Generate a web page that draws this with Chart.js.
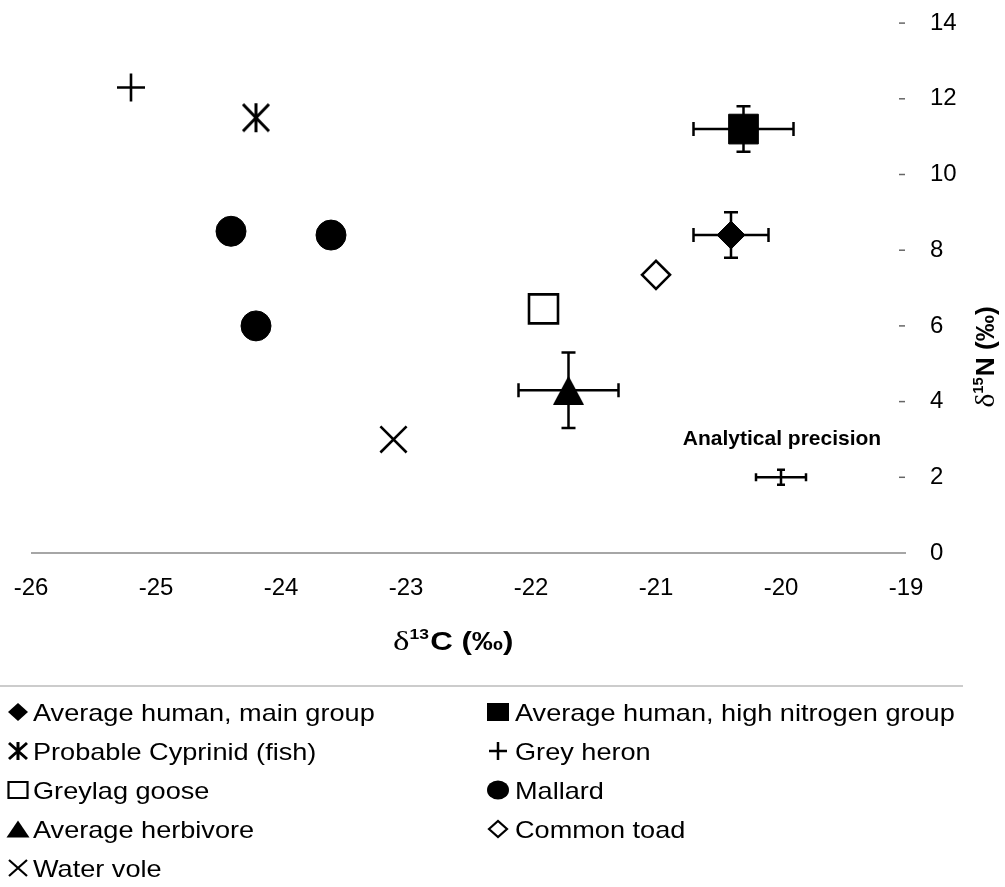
<!DOCTYPE html>
<html><head><meta charset="utf-8">
<script src="https://cdn.jsdelivr.net/npm/chart.js@4.4.1/dist/chart.umd.min.js"></script>
<style>html,body{margin:0;padding:0;background:#fff}canvas{display:block}</style>
</head><body>
<canvas id="c" width="1005" height="887"></canvas>
<script>
// ---- data (δ13C, δ15N in ‰) ----
const seriesLabels = [
  'Average human, main group',
  'Average human, high nitrogen group',
  'Probable Cyprinid (fish)',
  'Grey heron',
  'Greylag goose',
  'Mallard',
  'Average herbivore',
  'Common toad',
  'Water vole'
];
const humanMainC = [-20.4];  const humanMainN = [8.4];
const humanMainErrC = [0.3]; const humanMainErrN = [0.6];
const humanHighC = [-20.3];  const humanHighN = [11.2];
const humanHighErrC = [0.4]; const humanHighErrN = [0.6];
const cyprinidC = [-24.2];   const cyprinidN = [11.5];
const heronC = [-25.2];      const heronN = [12.3];
const gooseC = [-21.9];      const gooseN = [6.45];
const mallardC = [-24.4, -23.6, -24.2]; const mallardN = [8.5, 8.4, 6.0];
const herbivoreC = [-21.7];  const herbivoreN = [4.3];
const herbivoreErrC = [0.4]; const herbivoreErrN = [1.0];
const toadC = [-21.0];       const toadN = [7.35];
const voleC = [-23.1];       const voleN = [3.0];
const precisionLabel = 'Analytical precision';
const precisionC = [-20.0];  const precisionN = [2.0];
const precisionErrC = [0.2]; const precisionErrN = [0.2];
const xTicks = [-26, -25, -24, -23, -22, -21, -20, -19];
const yTicks = [0, 2, 4, 6, 8, 10, 12, 14];

const SANS = "'Liberation Sans', Arial, Helvetica, sans-serif";
const SERIF = "'Liberation Serif', 'Times New Roman', serif";

function pts(xs, ys) { return xs.map((v, i) => ({x: v, y: ys[i]})); }

function asteriskCanvas(w, h, lw) {
  const c = document.createElement('canvas');
  c.width = w; c.height = h;
  const g = c.getContext('2d');
  g.strokeStyle = '#000'; g.lineWidth = lw;
  g.beginPath();
  g.moveTo(w / 2, 1); g.lineTo(w / 2, h - 1);
  g.moveTo(2, 2); g.lineTo(w - 2, h - 2);
  g.moveTo(w - 2, 2); g.lineTo(2, h - 2);
  g.stroke();
  return c;
}
function triangleCanvas(w, h) {
  const c = document.createElement('canvas');
  c.width = w; c.height = h;
  const g = c.getContext('2d');
  g.fillStyle = '#000';
  g.beginPath();
  g.moveTo(w / 2, 0); g.lineTo(w, h); g.lineTo(0, h); g.closePath();
  g.fill();
  return c;
}

const K = '#000';
function ds(label, data, style, radius, fillColor, bw, marker, fill, extra) {
  return Object.assign({
    label, data, pointStyle: style, pointRadius: radius,
    pointBackgroundColor: fillColor, backgroundColor: fillColor,
    pointBorderColor: K, borderColor: K, pointBorderWidth: bw, borderWidth: bw,
    showLine: false, marker, fill
  }, extra || {});
}
const datasets = [
  ds(seriesLabels[0], pts(humanMainC, humanMainN), 'rectRot', 14, K, 1, 'diamond', true, {errC: humanMainErrC, errN: humanMainErrN}),
  ds(seriesLabels[1], pts(humanHighC, humanHighN), 'rect', 21, K, 1, 'square', true, {errC: humanHighErrC, errN: humanHighErrN}),
  ds(seriesLabels[2], pts(cyprinidC, cyprinidN), asteriskCanvas(30, 31, 3), 15, K, 1, 'asterisk', true),
  ds(seriesLabels[3], pts(heronC, heronN), 'cross', 14, K, 2.6, 'plus', true),
  ds(seriesLabels[4], pts(gooseC, gooseN), 'rect', 20.5, '#fff', 2.6, 'square', false),
  ds(seriesLabels[5], pts(mallardC, mallardN), 'circle', 15, K, 1, 'circle', true),
  ds(seriesLabels[6], pts(herbivoreC, herbivoreN), triangleCanvas(31, 29), 15, K, 1, 'triangle', true, {errC: herbivoreErrC, errN: herbivoreErrN}),
  ds(seriesLabels[7], pts(toadC, toadN), 'rectRot', 14, '#fff', 2.6, 'diamond', false),
  ds(seriesLabels[8], pts(voleC, voleN), 'crossRot', 18.5, K, 2.6, 'x', true),
  ds(precisionLabel, pts(precisionC, precisionN), 'circle', 0, K, 0, null, false,
     {errC: precisionErrC, errN: precisionErrN, noLegend: true, capHalf: 4})
];

function drawMarker(ctx, m, cx, cy, fill) {
  ctx.save();
  ctx.strokeStyle = '#000'; ctx.fillStyle = '#000'; ctx.lineWidth = 2.2;
  ctx.beginPath();
  if (m === 'diamond') {
    const hw = fill ? 10 : 9, hh = fill ? 9 : 8;
    ctx.moveTo(cx - hw, cy); ctx.lineTo(cx, cy - hh); ctx.lineTo(cx + hw, cy); ctx.lineTo(cx, cy + hh); ctx.closePath();
    fill ? ctx.fill() : ctx.stroke();
  } else if (m === 'square') {
    if (fill) { ctx.rect(cx - 11, cy - 9, 22, 18); ctx.fill(); }
    else { ctx.rect(cx - 9.5, cy - 8, 19, 16); ctx.stroke(); }
  } else if (m === 'circle') {
    ctx.ellipse(cx, cy, 11, 9.5, 0, 0, Math.PI * 2); ctx.fill();
  } else if (m === 'triangle') {
    ctx.moveTo(cx - 11.5, cy + 8.5); ctx.lineTo(cx, cy - 8.5); ctx.lineTo(cx + 11.5, cy + 8.5); ctx.closePath(); ctx.fill();
  } else if (m === 'plus') {
    ctx.lineWidth = 2.5;
    ctx.moveTo(cx - 9, cy); ctx.lineTo(cx + 9, cy); ctx.moveTo(cx, cy - 9); ctx.lineTo(cx, cy + 9); ctx.stroke();
  } else if (m === 'x') {
    ctx.lineWidth = 2.2;
    ctx.moveTo(cx - 9, cy - 8); ctx.lineTo(cx + 9, cy + 8); ctx.moveTo(cx + 9, cy - 8); ctx.lineTo(cx - 9, cy + 8); ctx.stroke();
  } else if (m === 'asterisk') {
    ctx.lineWidth = 3;
    ctx.moveTo(cx, cy - 9); ctx.lineTo(cx, cy + 9);
    ctx.moveTo(cx - 9, cy - 8); ctx.lineTo(cx + 9, cy + 8);
    ctx.moveTo(cx + 9, cy - 8); ctx.lineTo(cx - 9, cy + 8); ctx.stroke();
  }
  ctx.restore();
}

function drawParts(ctx, parts, x, y) {
  let cx = x;
  parts.forEach(p => { ctx.font = p[1]; ctx.fillText(p[0], cx, y + p[2]); cx += ctx.measureText(p[0]).width + (p[3] || 0); });
}
function partsWidth(ctx, parts) {
  let w = 0; parts.forEach(p => { ctx.font = p[1]; w += ctx.measureText(p[0]).width + (p[3] || 0); }); return w;
}

const decor = {
  id: 'decor',
  beforeDatasetsDraw(chart) {
    const {ctx, scales: {x, y}} = chart;
    ctx.save();
    const y0 = y.getPixelForValue(yTicks[0]);
    ctx.strokeStyle = '#888'; ctx.lineWidth = 1.5;
    ctx.beginPath(); ctx.moveTo(x.left, y0); ctx.lineTo(x.right, y0); ctx.stroke();
    ctx.strokeStyle = '#666'; ctx.lineWidth = 1.5;
    yTicks.forEach(v => {
      if (v === yTicks[0]) return;
      const py = y.getPixelForValue(v);
      ctx.beginPath(); ctx.moveTo(y.left - 7, py); ctx.lineTo(y.left - 1, py); ctx.stroke();
    });
    ctx.strokeStyle = '#000'; ctx.lineWidth = 2.5;
    chart.data.datasets.forEach(d => {
      if (!d.errC) return;
      const cap = d.capHalf || 7;
      d.data.forEach((p, i) => {
        const px = x.getPixelForValue(p.x), py = y.getPixelForValue(p.y);
        const xl = x.getPixelForValue(p.x - d.errC[i]), xr = x.getPixelForValue(p.x + d.errC[i]);
        const yt = y.getPixelForValue(p.y + d.errN[i]), yb = y.getPixelForValue(p.y - d.errN[i]);
        ctx.beginPath();
        ctx.moveTo(xl, py); ctx.lineTo(xr, py);
        ctx.moveTo(xl, py - cap); ctx.lineTo(xl, py + cap);
        ctx.moveTo(xr, py - cap); ctx.lineTo(xr, py + cap);
        ctx.moveTo(px, yt); ctx.lineTo(px, yb);
        ctx.moveTo(px - cap, yt); ctx.lineTo(px + cap, yt);
        ctx.moveTo(px - cap, yb); ctx.lineTo(px + cap, yb);
        ctx.stroke();
      });
    });
    ctx.restore();
  },
  afterDraw(chart) {
    const {ctx, scales: {x, y}} = chart;
    ctx.save();
    ctx.fillStyle = '#000';
    ctx.textBaseline = 'alphabetic';
    // precision label
    const ppx = x.getPixelForValue(precisionC[0]), ppy = y.getPixelForValue(precisionN[0]);
    ctx.font = 'bold 21px ' + SANS;
    ctx.textAlign = 'center';
    ctx.fillText(precisionLabel, ppx + 1, ppy - 32);
    ctx.textAlign = 'left';
    // x title (slightly stretched, like the source)
    const xParts = [['δ', '28px ' + SERIF, 0, 0], ['13', 'bold 14px ' + SANS, -11, 1], ['C (‰)', 'bold 25px ' + SANS, 0, 0]];
    ctx.save();
    ctx.translate(393, 650);
    ctx.scale(1.25, 1);
    drawParts(ctx, xParts, 0, 0);
    ctx.restore();
    // y title (rotated)
    const yParts = [['δ', '28px ' + SERIF, 0, 0], ['15', 'bold 14px ' + SANS, -11, 1], ['N (‰)', 'bold 25px ' + SANS, 0, 0]];
    const yw = partsWidth(ctx, yParts);
    ctx.save();
    ctx.translate(994, 357);
    ctx.rotate(-Math.PI / 2);
    ctx.scale(1.05, 1);
    drawParts(ctx, yParts, -yw / 2, 0);
    ctx.restore();
    // legend
    ctx.strokeStyle = '#999'; ctx.lineWidth = 1.2;
    ctx.beginPath(); ctx.moveTo(0, 686); ctx.lineTo(963, 686); ctx.stroke();
    const items = chart.data.datasets.filter(d => !d.noLegend);
    items.forEach((d, i) => {
      const col = i % 2, row = Math.floor(i / 2);
      const mx = col === 0 ? 18 : 498;
      const tx = col === 0 ? 33 : 515;
      const cy = 712 + row * 39;
      drawMarker(ctx, d.marker, mx, cy, d.fill);
      ctx.save();
      ctx.font = '24px ' + SANS;
      ctx.translate(tx, cy + 8.5);
      ctx.scale(1.13, 1);
      ctx.fillText(d.label, 0, 0);
      ctx.restore();
    });
    ctx.restore();
  }
};

new Chart(document.getElementById('c'), {
  type: 'scatter',
  data: {datasets},
  options: {
    responsive: false,
    animation: false,
    events: [],
    layout: {padding: {left: 31, top: 20, right: 0, bottom: 0}},
    plugins: {legend: {display: false}, tooltip: {enabled: false}},
    scales: {
      x: {
        type: 'linear', position: 'bottom',
        min: xTicks[0], max: xTicks[xTicks.length - 1],
        ticks: {stepSize: 1, color: '#000', font: {size: 24, family: SANS}, padding: 21},
        grid: {display: false, drawTicks: false},
        border: {display: false},
        afterFit(s) { s.height = 334; s.paddingLeft = 0; s.paddingRight = 0; }
      },
      y: {
        type: 'linear', position: 'right',
        min: yTicks[0], max: yTicks[yTicks.length - 1],
        ticks: {stepSize: 2, color: '#000', font: {size: 24, family: SANS}, padding: 24},
        grid: {display: false, drawTicks: false},
        border: {display: false},
        afterFit(s) { s.width = 99; s.paddingTop = 0; s.paddingBottom = 0; }
      }
    }
  },
  plugins: [decor]
});
</script>
</body></html>
